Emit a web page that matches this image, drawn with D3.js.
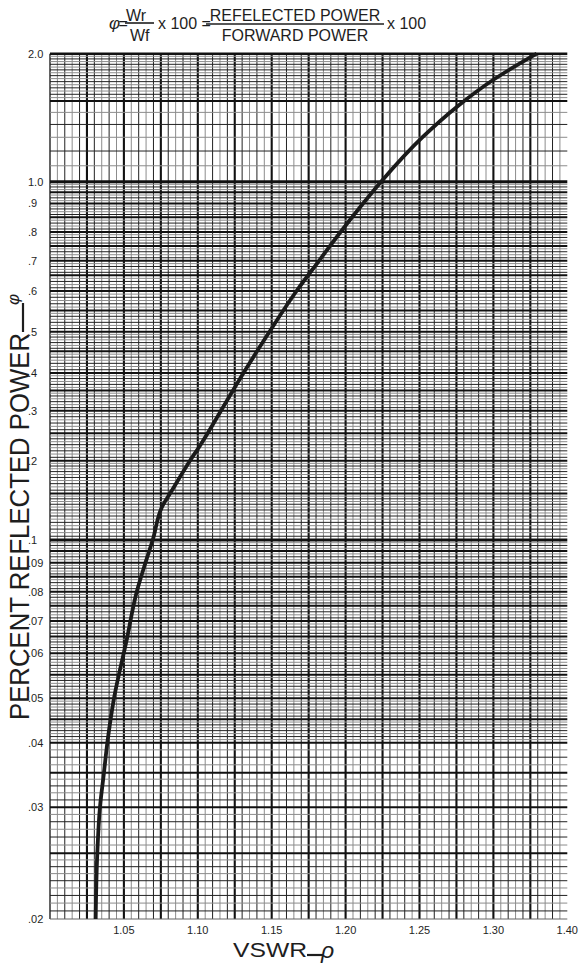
<!DOCTYPE html>
<html><head><meta charset="utf-8">
<script src="https://cdn.jsdelivr.net/npm/d3@7"></script>
<style>
body{margin:0;background:#fff}
svg{display:block}
text{font-family:"Liberation Sans",Arial,Helvetica,sans-serif;fill:#1e1e1e}
</style>
</head><body>
<svg id="c" width="580" height="968"></svg>
<script>
// ---------- data ----------
const vswr    = [1.3293,1.2997,1.2754,1.2524,1.2240,1.2118,1.1966,1.1820,1.1668,1.1485,1.1309,1.1157,1.1010,1.0947,1.0812,1.0765,1.0695,1.0646,1.0587,1.0519,1.0433,1.0388,1.0365,1.0338,1.0320,1.0309];
const percent = [2.0,   1.704, 1.458, 1.254, 1.0,   0.9,   0.8,   0.7,   0.6,   0.5,   0.4,   0.3,   0.224, 0.2,   0.15,  0.136, 0.1,   0.09,  0.08,  0.064, 0.05,  0.04,  0.035, 0.03,  0.025, 0.02];
const xTickValues = [1.05,1.10,1.15,1.20,1.25,1.30,1.35];
const xTickLabels = ["1.05","1.10","1.15","1.20","1.25","1.30","1.40"];
const yTickValues = [2.0,1.0,0.9,0.8,0.7,0.6,0.5,0.4,0.3,0.2,0.1,0.09,0.08,0.07,0.06,0.05,0.04,0.03,0.02];
const yTickLabels = ["2.0","1.0",".9",".8",".7",".6",".5",".4",".3",".2",".1",".09",".08",".07",".06",".05",".04",".03",".02"];
const yMidValues  = [1.5,0.95,0.85,0.75,0.65,0.55,0.45,0.35,0.25,0.15,0.095,0.085,0.075,0.065,0.055,0.045,0.035,0.025];

// ---------- layout ----------
const X0 = 50, X1 = 567.3;
// the printed paper is not a uniform log scale: piecewise log scale through its printed rulings
const yBreakVals = [2.0,1.5,1.0,0.9,0.8,0.7,0.6,0.5,0.4,0.3,0.2,0.1,0.09,0.08,0.07,0.06,0.05,0.04,0.03,0.025,0.02];
const yBreakPx   = [53.7,101,181.7,203.5,232,260.8,291,331.7,373,410.7,460.7,540,562.7,591.7,621,653.3,698.3,742.7,807.3,853.3,919];

const svg = d3.select("#c");
const x = d3.scaleLinear().domain([1.0,1.35]).range([X0,X1]);
const yl = d3.scaleLinear().domain(yBreakVals.map(Math.log10)).range(yBreakPx);
const y = v => yl(Math.log10(v));

const grid = svg.append("g");

// vertical rulings every 0.005
d3.range(0,70).forEach(k=>{
  const v = 1 + k*0.005, px = x(v);
  let stroke="#8c8c8c", w=1;
  if (k%5===0){stroke="#111"; w=2.1;}
  else if (k%2===0){stroke="#222"; w=1;}
  if (k===0){stroke="#222"; w=1.4;}
  grid.append("line").attr("x1",px).attr("x2",px).attr("y1",y(2.0)).attr("y2",y(0.02))
    .attr("stroke",stroke).attr("stroke-width",w);
});

// horizontal rulings
const majors = yTickValues.concat(yMidValues).sort((a,b)=>b-a);
for (let i=0;i<majors.length-1;i++){
  const hi=majors[i], lo=majors[i+1];
  const L = y(lo)-y(hi);
  let target = 3.0;
  if (hi<=1.5 && lo>=1.0) target = 13;
  else if (hi<=0.04) target = 7.3;
  const n = Math.max(1, Math.round(L/target));
  for (let k=1;k<n;k++){
    const v = hi - (hi-lo)*k/n;
    grid.append("line").attr("x1",X0).attr("x2",X1).attr("y1",y(v)).attr("y2",y(v))
      .attr("stroke", k%2 ? "#8c8c8c" : "#222").attr("stroke-width",1);
  }
}
majors.forEach(v=>{
  let w = 2, c = "#111";
  if (v===1.0 || v===0.1) w = 3;
  if (v===2.0) w = 2.6;
  if (v===0.02){w=1.2; c="#666";}
  grid.append("line").attr("x1",X0).attr("x2",X1).attr("y1",y(v)).attr("y2",y(v))
    .attr("stroke",c).attr("stroke-width",w);
});

// curve
const pts = vswr.map((v,i)=>[v,percent[i]]);
svg.append("path").datum(pts)
  .attr("d", d3.line().x(d=>x(d[0])).y(d=>y(d[1])).curve(d3.curveMonotoneY))
  .attr("fill","none").attr("stroke","#1a1a1a").attr("stroke-width",3.8).attr("stroke-linecap","butt");

// tick labels
svg.append("g").selectAll("text").data(xTickValues).join("text")
  .attr("x",d=>x(d)).attr("y",934).attr("text-anchor","middle").style("font-size","11px")
  .text((d,i)=>xTickLabels[i]);
svg.append("g").selectAll("text").data(yTickValues).join("text")
  .attr("x",28).attr("y",d=>y(d)).attr("dy","0.36em").attr("text-anchor","start").style("font-size","11px")
  .text((d,i)=>yTickLabels[i]);

// axis titles
svg.append("text").attr("x",233).attr("y",956.7).style("font-size","21px")
  .attr("textLength",74).attr("lengthAdjust","spacingAndGlyphs").text("VSWR");
svg.append("line").attr("x1",307).attr("x2",323).attr("y1",955).attr("y2",955).attr("stroke","#1e1e1e").attr("stroke-width",2.2);
svg.append("text").attr("x",321).attr("y",958).style("font-size","23px").style("font-style","italic").text("ρ");

svg.append("text").attr("transform","translate(28.5,720) rotate(-90)").style("font-size","27px")
  .attr("textLength",387).attr("lengthAdjust","spacingAndGlyphs").text("PERCENT REFLECTED POWER");
svg.append("line").attr("x1",23).attr("x2",23).attr("y1",303).attr("y2",332).attr("stroke","#1e1e1e").attr("stroke-width",2.2);
svg.append("text").attr("transform","translate(19,305) rotate(-90)").style("font-size","17px").style("font-style","italic").text("φ");

// title formula
const T = svg.append("g");
T.append("text").attr("x",109).attr("y",29.3).style("font-size","17px").style("font-style","italic").text("φ");
T.append("text").attr("x",118.5).attr("y",29.3).style("font-size","16px").text("=");
T.append("text").attr("x",126).attr("y",20.7).style("font-size","16px").text("Wr");
T.append("line").attr("x1",125).attr("x2",154).attr("y1",23).attr("y2",23).attr("stroke","#1e1e1e").attr("stroke-width",1.6);
T.append("text").attr("x",130).attr("y",40.7).style("font-size","16px").text("Wf");
T.append("text").attr("x",158).attr("y",29.3).style("font-size","16px").text("x 100 =");
T.append("line").attr("x1",206).attr("x2",384).attr("y1",24).attr("y2",24).attr("stroke","#1e1e1e").attr("stroke-width",1.6);
T.append("text").attr("x",295).attr("y",20.7).attr("text-anchor","middle").style("font-size","16px").text("REFELECTED POWER");
T.append("text").attr("x",295).attr("y",40.7).attr("text-anchor","middle").style("font-size","16px").text("FORWARD POWER");
T.append("text").attr("x",387).attr("y",29.3).style("font-size","16px").text("x 100");
</script>
</body></html>
